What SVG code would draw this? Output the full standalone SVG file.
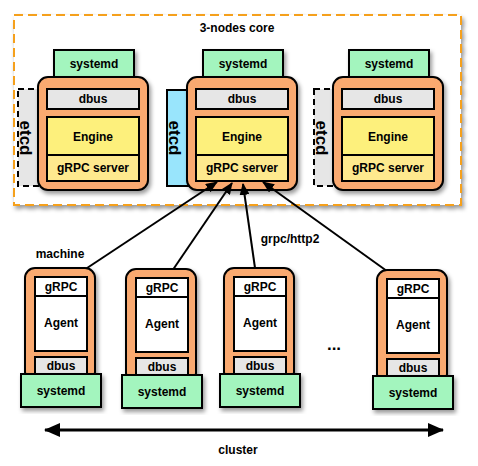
<svg xmlns="http://www.w3.org/2000/svg" width="478" height="466" viewBox="0 0 478 466">
<defs>
<style>
text{font-family:"Liberation Sans",Arial,sans-serif;font-weight:bold;font-size:12px;fill:#000;text-anchor:middle}
.box{stroke:#000;stroke-width:2}
.orange{fill:#f9a970;stroke:#000;stroke-width:2}
.sysd{fill:#a3f5be;stroke:#000;stroke-width:2}
.dbus{fill:#e6e6e6;stroke:#000;stroke-width:2}
.engine{fill:#fdf07c;stroke:#000;stroke-width:2}
.grpcs{fill:#fee98e;stroke:#000;stroke-width:2}
.white{fill:#fff;stroke:#000;stroke-width:2}
.etcd-d{fill:#e6e6e6;stroke:#000;stroke-width:2;stroke-dasharray:6,4}
.etcd-c{fill:#99e5fc;stroke:#000;stroke-width:2}
.etcdt{font-size:17px}
.conn{stroke:#000;stroke-width:2;fill:none;marker-end:url(#ah)}
</style>
<filter id="sh" x="-20%" y="-20%" width="140%" height="140%">
<feDropShadow dx="2" dy="3" stdDeviation="2" flood-color="#000" flood-opacity="0.4"/>
</filter>
<marker id="ah" markerUnits="userSpaceOnUse" markerWidth="12" markerHeight="10" refX="11" refY="5" orient="auto">
<path d="M0,0 L12,5 L0,10 Z" fill="#000"/>
</marker>
<marker id="big" markerUnits="userSpaceOnUse" markerWidth="16" markerHeight="14" refX="15" refY="7" orient="auto-start-reverse">
<path d="M0,0 L16,7 L0,14 Z" fill="#000"/>
</marker>
</defs>
<rect width="478" height="466" fill="#fff"/>

<g id="core">
<rect x="14" y="15" width="447" height="190" fill="#fff" stroke="#f5a01f" stroke-width="2" stroke-dasharray="9,5" filter="url(#sh)"/>
<text x="237" y="32">3-nodes core</text>
</g>

<g id="server1" transform="translate(38,0)">
<rect class="etcd-d" x="-20" y="89" width="22" height="97"/>
<text class="etcdt" transform="translate(-18,138) rotate(90)">etcd</text>
<rect class="sysd" x="16" y="50" width="80" height="28" filter="url(#sh)"/>
<rect class="orange" x="0" y="77" width="110" height="113" rx="10" filter="url(#sh)"/>
<rect class="dbus" x="9" y="89" width="92" height="20"/>
<rect class="engine" x="9" y="117" width="92" height="38"/>
<rect class="grpcs" x="9" y="155" width="92" height="26"/>
<text x="56" y="68">systemd</text>
<text x="55" y="103">dbus</text>
<text x="55" y="141">Engine</text>
<text x="55" y="172">gRPC server</text>
</g>

<g id="server2" transform="translate(187,0)">
<rect class="etcd-c" x="-20" y="90" width="22" height="96"/>
<text class="etcdt" transform="translate(-18,138) rotate(90)">etcd</text>
<rect class="sysd" x="16" y="50" width="80" height="28" filter="url(#sh)"/>
<rect class="orange" x="0" y="77" width="110" height="113" rx="10" filter="url(#sh)"/>
<rect class="dbus" x="9" y="89" width="92" height="20"/>
<rect class="engine" x="9" y="117" width="92" height="38"/>
<rect class="grpcs" x="9" y="155" width="92" height="26"/>
<text x="56" y="68">systemd</text>
<text x="55" y="103">dbus</text>
<text x="55" y="141">Engine</text>
<text x="55" y="172">gRPC server</text>
</g>

<g id="server3" transform="translate(333,0)">
<rect class="etcd-d" x="-19" y="89" width="21" height="97"/>
<text class="etcdt" transform="translate(-17,138) rotate(90)">etcd</text>
<rect class="sysd" x="16" y="50" width="80" height="28" filter="url(#sh)"/>
<rect class="orange" x="0" y="77" width="110" height="113" rx="10" filter="url(#sh)"/>
<rect class="dbus" x="9" y="89" width="92" height="20"/>
<rect class="engine" x="9" y="117" width="92" height="38"/>
<rect class="grpcs" x="9" y="155" width="92" height="26"/>
<text x="56" y="68">systemd</text>
<text x="55" y="103">dbus</text>
<text x="55" y="141">Engine</text>
<text x="55" y="172">gRPC server</text>
</g>

<g id="connectors">
<line class="conn" x1="75" y1="276" x2="217" y2="182"/>
<line class="conn" x1="168" y1="277" x2="232" y2="183"/>
<line class="conn" x1="256" y1="275" x2="243" y2="184"/>
<line class="conn" x1="398" y1="279" x2="263" y2="182"/>
<line x1="45" y1="430" x2="443" y2="430" stroke="#000" stroke-width="3" marker-start="url(#big)" marker-end="url(#big)"/>
</g>

<g id="agent1" transform="translate(25,0)">
<rect class="orange" x="0" y="268" width="70" height="114" rx="10" filter="url(#sh)"/>
<rect class="white" x="10" y="277" width="52" height="19"/>
<rect class="white" x="10" y="296" width="52" height="55"/>
<rect class="dbus" x="10" y="357" width="52" height="18"/>
<rect class="sysd" x="-4" y="374" width="80" height="33" filter="url(#sh)"/>
<text x="36" y="291">gRPC</text>
<text x="36" y="327">Agent</text>
<text x="36" y="370">dbus</text>
<text x="36" y="395">systemd</text>
</g>

<g id="agent2" transform="translate(126,1)">
<rect class="orange" x="0" y="268" width="70" height="114" rx="10" filter="url(#sh)"/>
<rect class="white" x="10" y="277" width="52" height="19"/>
<rect class="white" x="10" y="296" width="52" height="55"/>
<rect class="dbus" x="10" y="357" width="52" height="18"/>
<rect class="sysd" x="-4" y="374" width="80" height="33" filter="url(#sh)"/>
<text x="36" y="291">gRPC</text>
<text x="36" y="327">Agent</text>
<text x="36" y="370">dbus</text>
<text x="36" y="395">systemd</text>
</g>

<g id="agent3" transform="translate(224,0)">
<rect class="orange" x="0" y="268" width="70" height="114" rx="10" filter="url(#sh)"/>
<rect class="white" x="10" y="277" width="52" height="19"/>
<rect class="white" x="10" y="296" width="52" height="55"/>
<rect class="dbus" x="10" y="357" width="52" height="18"/>
<rect class="sysd" x="-4" y="374" width="80" height="33" filter="url(#sh)"/>
<text x="36" y="291">gRPC</text>
<text x="36" y="327">Agent</text>
<text x="36" y="370">dbus</text>
<text x="36" y="395">systemd</text>
</g>

<g id="agent4" transform="translate(377,2)">
<rect class="orange" x="0" y="268" width="70" height="114" rx="10" filter="url(#sh)"/>
<rect class="white" x="10" y="277" width="52" height="19"/>
<rect class="white" x="10" y="296" width="52" height="55"/>
<rect class="dbus" x="10" y="357" width="52" height="18"/>
<rect class="sysd" x="-4" y="374" width="80" height="33" filter="url(#sh)"/>
<text x="36" y="291">gRPC</text>
<text x="36" y="327">Agent</text>
<text x="36" y="370">dbus</text>
<text x="36" y="395">systemd</text>
</g>

<g id="labels">
<text x="60" y="258">machine</text>
<text x="290" y="243">grpc/http2</text>
<text x="334" y="350" style="font-size:17px">...</text>
<text x="238" y="454">cluster</text>
</g>
</svg>
